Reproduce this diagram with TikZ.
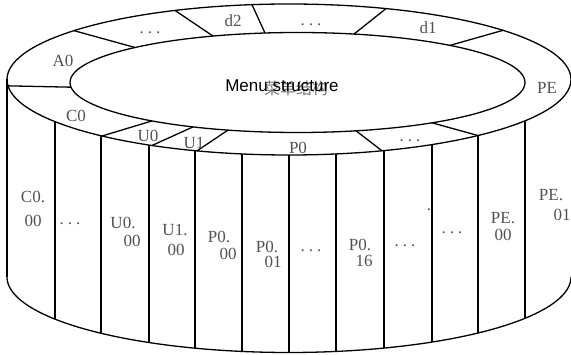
\documentclass[tikz,border=0pt]{standalone}
\usepackage{fontspec}
\setmainfont{Liberation Serif}
\newfontfamily\sansf{Liberation Sans}
\newfontfamily\cjk{Noto Sans CJK SC}
% outer ellipse: centre (289,79.5), radii 282 x 75.5 ; inner: (297.5,82.5), 227.5 x 50 ; base: (289,277)
\newcommand{\mydivT}[2]{\draw (#1,{79.5-75.5*sqrt(1-((#1-289)/282)^2)}) -- (#2,{82.5-50*sqrt(1-((#2-297.5)/227.5)^2)});}
\newcommand{\mydivB}[2]{\draw (#1,{82.5+50*sqrt(1-((#1-297.5)/227.5)^2)}) -- (#2,{79.5+75.5*sqrt(1-((#2-289)/282)^2)});}
\newcommand{\mycylV}[1]{\draw (#1,{79.5+75.5*sqrt(1-((#1-289)/282)^2)}) -- (#1,{277+75.5*sqrt(1-((#1-289)/282)^2)});}
\newcommand{\mydots}{.\hspace{4pt}.\hspace{4pt}.}
\begin{document}
\begin{tikzpicture}[x=1pt,y=-1pt,line width=1.3pt,
  lbl/.style={font=\fontsize{17}{17}\selectfont,text=black!68,inner sep=0pt},
  dotlbl/.style={lbl,anchor=base}]
\useasboundingbox (0,0) rectangle (571,355);
\clip (0,0) rectangle (571,355);
% top ring
\draw (289,79.5) ellipse [x radius=282pt, y radius=75.5pt];
\draw (297.5,82.5) ellipse [x radius=227.5pt, y radius=50pt];
% cylinder sides
\draw (7,79.5) -- (7,277);
\draw plot[domain=0:180,samples=150] ({289+282*cos(\x)},{277+75.5*sin(\x)});
% ring dividers
\mydivB{71}{8}
\mydivT{74}{135}
\mydivT{175}{213}
\mydivT{252}{265}
\mydivT{386}{354}
\mydivT{503}{450}
\mydivB{432}{478}
\mydivB{356}{382}
\mydivB{228}{197}
\mydivB{193}{152}
\mydivB{152}{102}
% cylinder columns
\foreach \X in {55,101,149,195,242,289,336,384,432,478,525} {\mycylV{\X}}
% centre text
\node[font=\cjk\fontsize{16}{16}\selectfont,text=black!55,inner sep=0pt] (zh) at (296,88) {菜单结构};
\node[font=\sansf\fontsize{17}{17}\selectfont,inner sep=0pt] (menu) at (282,86) {Menu structure};
% ring labels
\node[lbl] (rA0) at (63,61) {A0};
\node[dotlbl] (rd1) at (150,34) {\mydots};
\node[lbl] (rd2) at (233,21) {d2};
\node[dotlbl] (rd3) at (311,26) {\mydots};
\node[lbl] (rd4) at (428,28) {d1};
\node[lbl] (rPE) at (547,88) {PE};
\node[dotlbl] (rd5) at (410,142) {\mydots};
\node[lbl] (rP0) at (298,148) {P0};
\node[lbl] (rU1) at (194,143) {U1};
\node[lbl] (rU0) at (148,136) {U0};
\node[lbl] (rC0) at (76,116) {C0};
% side labels
\node[lbl] (c1a) at (33,197) {C0.};
\node[lbl] (c1b) at (33,221) {00};
\node[dotlbl] (c2) at (70,225) {\mydots};
\node[lbl] (c3a) at (123,223) {U0.};
\node[lbl] (c3b) at (132,241) {00};
\node[lbl] (c4a) at (175,230) {U1.};
\node[lbl] (c4b) at (176,250) {00};
\node[lbl] (c5a) at (219,237) {P0.};
\node[lbl] (c5b) at (228,254) {00};
\node[lbl] (c6a) at (267,247) {P0.};
\node[lbl] (c6b) at (273,262) {01};
\node[dotlbl] (c7) at (311,252) {\mydots};
\node[lbl] (c8a) at (360,245) {P0.};
\node[lbl] (c8b) at (364,261) {16};
\node[dotlbl] (c9) at (405,247) {\mydots};
\node[dotlbl] (c9x) at (429,211) {.};
\node[dotlbl] (c10) at (452,234) {\mydots};
\node[lbl] (c11a) at (503,218) {PE.};
\node[lbl] (c11b) at (503,235) {00};
\node[lbl] (c12a) at (551,195) {PE.};
\node[lbl] (c12b) at (562,215) {01};
\end{tikzpicture}
\end{document}
